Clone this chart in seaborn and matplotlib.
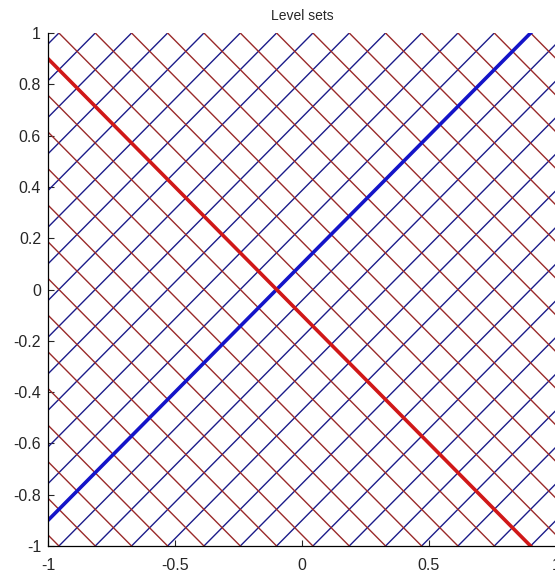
import numpy as np
import pandas as pd
import matplotlib
matplotlib.use("Agg")
import matplotlib.pyplot as plt
import seaborn as sns

# Level values (intercepts)
# blue family: y - x = c   (thick line at c = 0.1)
blue_levels = [-1.900, -1.757, -1.614, -1.471, -1.329, -1.186, -1.043,
               -0.900, -0.757, -0.614, -0.471, -0.329, -0.186, -0.043,
               0.100, 0.243, 0.386, 0.529, 0.671, 0.814, 0.957,
               1.100, 1.243, 1.386, 1.529, 1.671, 1.814, 1.957]
# red family: y + x = d   (thick line at d = -0.1)
red_levels = [-1.957, -1.814, -1.671, -1.529, -1.386, -1.243, -1.100,
              -0.957, -0.814, -0.671, -0.529, -0.386, -0.243, -0.100,
              0.043, 0.186, 0.329, 0.471, 0.614, 0.757, 0.900,
              1.043, 1.186, 1.329, 1.471, 1.614, 1.757, 1.900]
blue_thick = 0.1
red_thick = -0.1

x_ticks = [-1, -0.5, 0, 0.5, 1]
x_tick_labels = ["-1", "-0.5", "0", "0.5", "1"]
y_ticks = [-1, -0.8, -0.6, -0.4, -0.2, 0, 0.2, 0.4, 0.6, 0.8, 1]
y_tick_labels = ["-1", "-0.8", "-0.6", "-0.4", "-0.2", "0", "0.2", "0.4", "0.6", "0.8", "1"]

sns.set_style("white")
plt.rcParams['font.family'] = ['Liberation Sans', 'DejaVu Sans']

# long-form table of all level lines
xs = np.array([-1.0, 1.0])
rows = []
for c in blue_levels:
    for xv in xs:
        rows.append({"x": xv, "y": xv + c, "level": c, "family": "blue"})
for d in red_levels:
    for xv in xs:
        rows.append({"x": xv, "y": -xv + d, "level": d, "family": "red"})
df = pd.DataFrame(rows)

fig = plt.figure(figsize=(5.55, 5.75), dpi=100)
ax = fig.add_axes([48 / 555, 29 / 575, 508 / 555, 513 / 575])

is_thick = ((df["family"] == "blue") & (df["level"] == blue_thick)) | \
           ((df["family"] == "red") & (df["level"] == red_thick))
thin = df[~is_thick]
sns.lineplot(data=thin, x="x", y="y", hue="family", units="level", estimator=None,
             palette={"blue": "#1c1c8a", "red": "#9a2a2a"}, lw=1.0,
             legend=False, ax=ax, sort=False)

thick_b = df[(df["family"] == "blue") & (df["level"] == blue_thick)]
thick_r = df[(df["family"] == "red") & (df["level"] == red_thick)]
sns.lineplot(data=thick_b, x="x", y="y", color="#1414c8", lw=2.6, ax=ax,
             estimator=None, sort=False)
sns.lineplot(data=thick_r, x="x", y="y", color="#d01818", lw=2.6, ax=ax,
             estimator=None, sort=False)

ax.set_xlim(-1, 1)
ax.set_ylim(-1, 1)
ax.set_xticks(x_ticks)
ax.set_xticklabels(x_tick_labels)
ax.set_yticks(y_ticks)
ax.set_yticklabels(y_tick_labels)
ax.set_xlabel("")
ax.set_ylabel("")
ax.tick_params(direction="in", length=4.5, width=0.8, labelsize=11.5,
               bottom=True, left=True)
ax.tick_params(axis="x", pad=8.5)
ax.tick_params(axis="y", pad=5)
for s in ["top", "right"]:
    ax.spines[s].set_visible(False)
for s in ["left", "bottom"]:
    ax.spines[s].set_color("black")
    ax.spines[s].set_linewidth(0.9)

ax.set_title("Level sets", fontsize=10, pad=9)

fig.savefig("out.png", dpi=100, facecolor="white")
